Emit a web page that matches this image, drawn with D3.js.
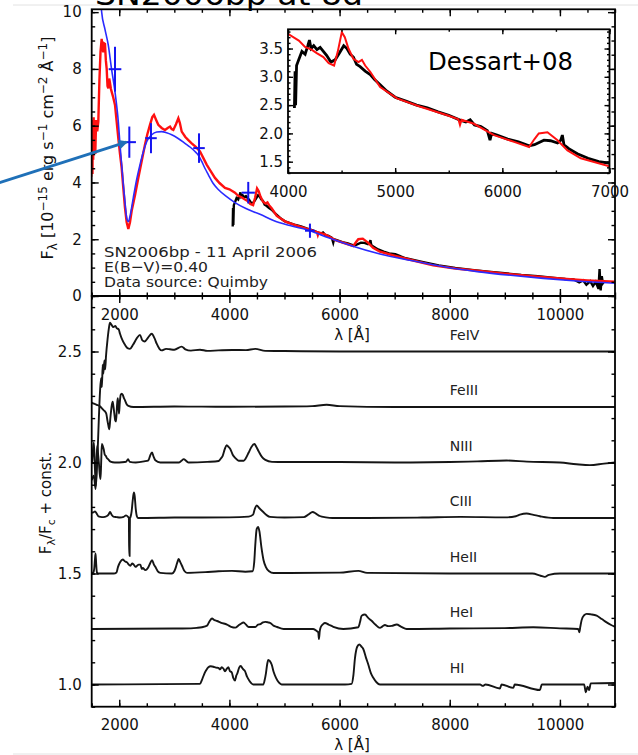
<!DOCTYPE html>
<html>
<head>
<meta charset="utf-8">
<script src="https://cdnjs.cloudflare.com/ajax/libs/d3/7.8.5/d3.min.js"></script>
<style>
body { margin: 0; background: #fff; }
text { font-family: "DejaVu Sans", sans-serif; }
</style>
</head>
<body>
<script>
// ---- top panel: observed spectrum, model, photometry ----
// model (red), [lambda A, F]
const modelSpec = [[1482,3.35],[1487,5.6],[1492,4.2],[1497,6.0],[1502,4.6],[1508,5.8],[1514,4.3],[1520,6.2],[1527,4.8],[1535,6.3],[1545,5.2],[1555,6.1],[1565,5.0],[1580,6.2],[1600,5.8],[1620,6.14],[1640,7.6],[1660,8.6],[1681,9.06],[1695,8.7],[1711,8.59],[1726,8.9],[1741,8.88],[1757,8.3],[1772,8.0],[1787,7.4],[1802,7.31],[1818,7.66],[1833,7.5],[1848,7.3],[1863,7.19],[1890,7.0],[1923,6.73],[1950,6.2],[1983,5.56],[2014,5.0],[2044,4.51],[2074,3.8],[2104,3.11],[2135,2.6],[2165,2.36],[2195,2.6],[2226,3.0],[2286,3.55],[2346,4.16],[2407,4.75],[2467,5.33],[2510,5.7],[2558,6.03],[2600,6.3],[2631,6.38],[2670,6.2],[2709,6.03],[2770,5.92],[2830,5.85],[2880,5.92],[2922,5.97],[2952,5.88],[2982,5.85],[3030,6.05],[3073,6.26],[3100,6.1],[3134,5.79],[3200,5.6],[3250,5.5],[3315,5.38],[3390,5.25],[3466,5.09],[3530,4.85],[3587,4.63],[3660,4.4],[3738,4.16],[3820,3.98],[3920,3.81],[4000,3.76],[4101,3.64],[4159,3.53],[4220,3.48],[4268,3.42],[4330,3.35],[4380,3.24],[4430,3.2],[4465,3.45],[4502,3.79],[4530,3.7],[4564,3.5],[4610,3.32],[4658,3.26],[4690,3.3],[4720,3.2],[4767,3.09],[4860,2.82],[5017,2.62],[5236,2.47],[5486,2.32],[5590,2.25],[5605,2.15],[5620,2.24],[5735,2.17],[5922,1.97],[6110,1.85],[6250,1.76],[6300,1.9],[6340,2.0],[6421,2.02],[6515,1.88],[6608,1.70],[6732,1.56],[7012,1.41],[7337,1.25],[7700,1.08],[8100,0.97],[8548,0.88],[9000,0.79],[9500,0.7],[10060,0.61],[10500,0.55],[11000,0.5]];

// observed (black)
const obsSpec = [[4060,2.45],[4066,3.1],[4071,2.5],[4080,3.2],[4100,3.3],[4130,3.45],[4160,3.4],[4185,3.55],[4200,3.65],[4215,3.5],[4240,3.55],[4270,3.48],[4300,3.52],[4330,3.45],[4360,3.38],[4400,3.26],[4440,3.3],[4480,3.42],[4520,3.55],[4550,3.5],[4580,3.4],[4610,3.35],[4640,3.22],[4673,3.18],[4720,3.1],[4767,3.04],[4810,2.95],[4860,2.86],[4920,2.75],[5000,2.64],[5100,2.57],[5200,2.5],[5300,2.45],[5400,2.38],[5500,2.32],[5600,2.24],[5660,2.2],[5700,2.24],[5740,2.15],[5800,2.12],[5860,2.05],[5885,1.88],[5900,2.0],[5950,1.97],[6050,1.9],[6150,1.85],[6250,1.78],[6300,1.8],[6388,1.88],[6450,1.87],[6515,1.83],[6545,1.88],[6560,1.97],[6575,1.8],[6620,1.73],[6700,1.64],[6800,1.56],[6900,1.5],[7012,1.47],[7200,1.33],[7500,1.2],[7800,1.08],[8100,0.99],[8400,0.92],[8700,0.86],[9000,0.8],[9300,0.74],[9600,0.7],[9900,0.64],[10100,0.6],[10250,0.58],[10350,0.48],[10420,0.55],[10480,0.40],[10550,0.52],[10600,0.35],[10650,0.5],[10700,0.25],[10720,0.95],[10740,0.2],[10760,0.7],[10780,0.45],[10800,0.5]];

// blackbody-like fit (blue)
const fitSpec = [[1640,11.2],[1681,10.0],[1740,9.4],[1802,8.83],[1860,8.0],[1923,7.19],[1983,6.14],[2014,5.33],[2045,4.6],[2074,3.93],[2105,3.3],[2135,2.76],[2165,2.62],[2200,2.85],[2255,3.46],[2310,4.05],[2377,4.63],[2440,5.1],[2498,5.44],[2589,5.68],[2680,5.78],[2770,5.79],[2860,5.75],[2952,5.68],[3070,5.55],[3193,5.38],[3290,5.24],[3375,5.09],[3440,4.95],[3497,4.74],[3555,4.5],[3616,4.28],[3700,3.98],[3798,3.75],[3950,3.5],[4101,3.29],[4300,3.08],[4555,2.88],[4800,2.66],[5099,2.48],[5462,2.30],[5800,2.05],[6200,1.78],[6733,1.48],[7300,1.25],[7943,1.01],[8500,0.86],[9152,0.72],[9700,0.62],[10300,0.53],[11000,0.45]];

// photometry crosses
const photLam  = [1923, 2183, 2576, 3448, 4342, 5462];
const photFlux = [7.99, 5.42, 5.56, 5.21, 3.64, 2.30];
const photErr  = [0.79, 0.55, 0.53, 0.52, 0.38, 0.25];
const photDLam = [115, 120, 105, 105, 120, 90];

const infoLines = ["SN2006bp - 11 April 2006", "E(B\u2212V)=0.40", "Data source: Quimby"];

// ---- bottom panel: normalised spectra per ion, [lambda, offset from baseline] ----
const feIV = [[1500,-0.58],[1540,-0.56],[1570,-0.62],[1600,-0.5],[1630,-0.3],[1651,-0.18],[1670,-0.12],[1685,-0.16],[1700,-0.06],[1711,-0.1],[1730,-0.04],[1745,-0.08],[1760,-0.02],[1790,0.06],[1815,0.11],[1832,0.13],[1860,0.12],[1893,0.11],[1930,0.115],[1954,0.105],[1990,0.1],[2014,0.08],[2060,0.05],[2104,0.03],[2150,0.015],[2195,0.012],[2250,0.03],[2320,0.06],[2377,0.075],[2420,0.05],[2460,0.045],[2530,0.065],[2590,0.08],[2640,0.06],[2680,0.035],[2730,0.012],[2771,0.005],[2850,0.012],[2920,0.01],[3000,0.008],[3134,0.022],[3200,0.01],[3300,0.004],[3466,0.008],[3600,0.003],[3800,0.005],[4050,0.007],[4300,0.006],[4470,0.012],[4650,0.003],[5000,0.002],[6000,0.0],[11000,0.0]];
const feIII = [[1500,0.02],[1540,0.015],[1591,0.01],[1640,0.005],[1682,-0.005],[1720,-0.015],[1742,-0.02],[1765,-0.03],[1785,-0.06],[1800,-0.08],[1820,-0.1],[1835,-0.06],[1851,-0.02],[1866,0.01],[1881,0.024],[1896,0.0],[1911,-0.03],[1927,-0.06],[1942,-0.065],[1958,0.0],[1972,0.04],[1984,0.01],[1996,-0.03],[2010,0.02],[2026,0.055],[2045,0.06],[2063,0.055],[2085,0.04],[2105,0.03],[2135,0.012],[2166,0.005],[2257,0.0],[3000,0.002],[4000,0.001],[5000,0.002],[5500,0.004],[5765,0.01],[6000,0.004],[7000,0.0],[11000,0.0]];
const nIII = [[1500,0.0],[1510,0.01],[1525,0.06],[1540,0.09],[1557,-0.02],[1576,-0.105],[1590,0.02],[1600,0.075],[1615,0.04],[1630,0.0],[1645,-0.05],[1660,-0.075],[1672,0.0],[1684,0.083],[1700,0.075],[1718,0.06],[1737,0.035],[1755,0.03],[1775,0.02],[1797,0.015],[1840,0.004],[1918,0.0],[2000,0.0],[2100,0.002],[2130,0.005],[2160,0.015],[2190,0.003],[2300,0.0],[2450,0.005],[2530,0.01],[2560,0.03],[2595,0.045],[2625,0.025],[2655,0.01],[2745,0.0],[3079,0.0],[3130,0.008],[3170,0.015],[3220,0.006],[3260,0.0],[3600,0.003],[3805,0.007],[3850,0.02],[3878,0.03],[3915,0.06],[3950,0.078],[3985,0.07],[4018,0.06],[4060,0.035],[4108,0.02],[4168,0.008],[4259,0.008],[4300,0.02],[4350,0.045],[4400,0.07],[4453,0.083],[4490,0.07],[4531,0.05],[4590,0.025],[4652,0.012],[4773,0.003],[5000,0.002],[6000,0.002],[7000,0.0],[8000,0.002],[8500,0.005],[9032,0.009],[9400,0.004],[10000,0.0],[10300,-0.008],[10544,-0.012],[10800,-0.005],[11000,0.0]];
const cIII = [[1500,0.024],[1530,0.025],[1560,0.03],[1590,0.02],[1620,0.008],[1660,0.005],[1710,0.004],[1770,0.008],[1805,0.015],[1833,0.027],[1860,0.015],[1893,0.006],[1950,0.004],[2014,0.002],[2080,0.005],[2123,0.012],[2160,0.005],[2175,0.0],[2180,-0.17],[2188,-0.17],[2194,0.0],[2205,0.005],[2225,0.03],[2245,0.08],[2265,0.115],[2280,0.1],[2300,0.04],[2320,0.008],[2340,0.0],[3000,0.002],[4000,0.003],[4350,0.006],[4430,0.015],[4460,0.04],[4494,0.057],[4540,0.045],[4615,0.027],[4680,0.012],[4736,0.005],[5000,0.002],[5350,0.004],[5431,0.015],[5511,0.027],[5570,0.02],[5640,0.009],[5750,0.003],[5870,0.0],[6500,0.0],[7500,0.002],[8200,0.005],[9000,0.003],[9200,0.008],[9274,0.015],[9395,0.02],[9520,0.014],[9637,0.008],[9879,0.0],[11000,0.0]];
const heII = [[1500,0.0],[1530,0.005],[1545,0.02],[1558,0.06],[1570,0.09],[1582,0.04],[1595,0.005],[1610,0.0],[1900,0.0],[1950,0.005],[1978,0.03],[2020,0.053],[2063,0.063],[2100,0.055],[2142,0.05],[2172,0.04],[2202,0.035],[2233,0.045],[2263,0.04],[2294,0.03],[2324,0.035],[2354,0.04],[2384,0.04],[2410,0.02],[2427,0.025],[2475,0.015],[2520,0.025],[2560,0.045],[2595,0.06],[2630,0.04],[2655,0.03],[2700,0.01],[2745,0.003],[2957,0.0],[3000,0.01],[3030,0.03],[3060,0.055],[3079,0.065],[3110,0.05],[3139,0.035],[3180,0.012],[3230,0.003],[3563,0.006],[3800,0.01],[4047,0.012],[4289,0.008],[4420,0.01],[4450,0.05],[4470,0.13],[4495,0.2],[4520,0.21],[4545,0.19],[4580,0.12],[4620,0.06],[4660,0.03],[4720,0.01],[4800,0.002],[6000,0.004],[6340,0.012],[6500,0.003],[8000,0.0],[9500,0.0],[9650,-0.01],[9727,-0.015],[9800,-0.006],[10000,0.0],[11000,0.0]];
const heI = [[1500,0.0],[3000,0.002],[3300,0.003],[3412,0.005],[3500,0.008],[3594,0.015],[3640,0.035],[3684,0.047],[3730,0.04],[3775,0.036],[3850,0.028],[3956,0.02],[4030,0.01],[4108,0.006],[4160,0.015],[4199,0.022],[4259,0.029],[4300,0.02],[4350,0.009],[4470,0.009],[4520,0.02],[4561,0.022],[4610,0.03],[4652,0.032],[4700,0.03],[4743,0.027],[4800,0.015],[4864,0.009],[4985,0.0],[5522,0.0],[5590,-0.01],[5613,-0.015],[5625,-0.045],[5640,-0.01],[5657,0.008],[5700,0.022],[5735,0.027],[5800,0.02],[5886,0.01],[6068,0.0],[6340,0.008],[6370,0.03],[6400,0.06],[6461,0.065],[6520,0.05],[6582,0.037],[6650,0.02],[6733,0.005],[6780,0.012],[6824,0.018],[6880,0.013],[6945,0.014],[7036,0.02],[7120,0.01],[7217,0.0],[8000,0.002],[9000,0.004],[9516,0.008],[10000,0.003],[10333,0.0],[10352,-0.015],[10370,0.01],[10394,0.04],[10440,0.062],[10485,0.068],[10560,0.066],[10667,0.06],[10760,0.045],[10848,0.03],[10930,0.018],[11000,0.01]];
const hI = [[1500,0.0],[3466,0.003],[3500,0.02],[3539,0.045],[3580,0.065],[3618,0.078],[3660,0.082],[3709,0.08],[3755,0.076],[3800,0.075],[3830,0.068],[3860,0.078],[3890,0.072],[3920,0.06],[3950,0.07],[3981,0.078],[4010,0.06],[4041,0.055],[4070,0.03],[4102,0.018],[4125,0.04],[4144,0.05],[4175,0.075],[4205,0.083],[4245,0.07],[4283,0.06],[4320,0.035],[4362,0.017],[4400,0.005],[4434,0.0],[4615,0.0],[4640,0.02],[4663,0.05],[4685,0.09],[4705,0.111],[4735,0.105],[4767,0.09],[4805,0.055],[4846,0.03],[4900,0.008],[4948,0.0],[6100,0.0],[6219,0.003],[6250,0.04],[6280,0.12],[6320,0.17],[6357,0.18],[6400,0.17],[6430,0.16],[6480,0.12],[6521,0.09],[6570,0.05],[6612,0.03],[6670,0.01],[6733,0.0],[8000,0.0],[8550,0.0],[8600,-0.006],[8650,0.0],[8911,-0.018],[8940,0.0],[9153,-0.015],[9180,0.0],[9637,-0.025],[9670,0.0],[10440,0.0],[10470,-0.035],[10500,-0.01],[10530,-0.025],[10560,0.005],[11000,0.007]];

const ionNames = ["FeIV", "FeIII", "NIII", "CIII", "HeII", "HeI", "HI"];
const ionBase  = [2.5, 2.25, 2.0, 1.75, 1.5, 1.25, 1.0];
const ionData  = [feIV, feIII, nIII, cIII, heII, heI, hI];

const lamMajor = [2000, 4000, 6000, 8000, 10000];
const topYMajor = [0, 2, 4, 6, 8, 10];
const botYMajor = [1.0, 1.5, 2.0, 2.5];
const insetXMajor = [4000, 5000, 6000, 7000];
const insetYMajor = [1.5, 2.0, 2.5, 3.0, 3.5];

// ---- drawing ----
const W = 638, H = 755;
const svg = d3.select("body").append("svg").attr("width", W).attr("height", H);

const x = d3.scaleLinear().domain([1500, 11000]).range([91.7, 615]);
const yTop = d3.scaleLinear().domain([0, 10.1]).range([296, 9.3]);
const yBot = d3.scaleLinear().domain([0.9, 2.75]).range([706.7, 296]);
const xIn = d3.scaleLinear().domain([4000, 7000]).range([288, 609.5]);
const yIn = d3.scaleLinear().domain([1.3, 3.84]).range([173, 29.3]);

// slide leftovers: faint rules and the cut title
svg.append("line").attr("x1", 13).attr("x2", W).attr("y1", 5).attr("y2", 5).attr("stroke", "#e2e2e2");
svg.append("line").attr("x1", 13).attr("x2", W).attr("y1", 754).attr("y2", 754).attr("stroke", "#e2e2e2");
svg.append("text").attr("x", 95).attr("y", 5).attr("font-family", "Open Sans").attr("font-size", 30)
  .attr("textLength", 268).attr("lengthAdjust", "spacingAndGlyphs").text("SN2006bp at 8d");

function clip(id, xs, ys) {
  const [xa, xb] = xs.range(), [ya, yb] = ys.range();
  svg.append("clipPath").attr("id", id).append("rect")
    .attr("x", xa).attr("y", yb).attr("width", xb - xa).attr("height", ya - yb);
  return `url(#${id})`;
}

function frame(xs, ys, o) {
  const g = svg.append("g");
  const [xa, xb] = xs.range(), [ya, yb] = ys.range();
  const sides = [
    [d3.axisBottom, xs, `translate(0,${ya})`, o.xMaj, o.xMin, o.xFmt, o.xPad],
    [d3.axisTop, xs, `translate(0,${yb})`, o.xMaj, o.xMin, null, 0],
    [d3.axisLeft, ys, `translate(${xa},0)`, o.yMaj, o.yMin, o.yFmt, o.yPad],
    [d3.axisRight, ys, `translate(${xb},0)`, o.yMaj, o.yMin, null, 0]
  ];
  sides.forEach(([fn, sc, tr, maj, min, fmt, pad]) => {
    [[min, o.minLen, null], [maj, o.majLen, fmt]].forEach(([vals, len, f]) => {
      const a = g.append("g").attr("transform", tr)
        .call(fn(sc).tickValues(vals).tickSize(-len).tickPadding(pad).tickFormat(f || (() => "")));
      a.select(".domain").remove();
      a.attr("font-family", "DejaVu Sans").attr("font-size", 15);
      a.selectAll("line").attr("stroke-width", 1.4);
      a.selectAll("text").attr("fill", "#111");
    });
  });
  g.append("rect").attr("x", xa).attr("y", yb).attr("width", xb - xa).attr("height", ya - yb)
    .attr("fill", "none").attr("stroke", "#000").attr("stroke-width", 1.8);
}

const lamMinor = d3.range(1500, 11001, 500);

// bottom panel
const clipB = clip("cb", x, yBot);
const lineB = d3.line().x(d => x(d[0])).y(d => yBot(d[1])).curve(d3.curveMonotoneX);
ionData.forEach((data, i) => {
  svg.append("path").datum(data.map(d => [d[0], ionBase[i] + d[1]]))
    .attr("d", lineB).attr("fill", "none").attr("stroke", "#151515")
    .attr("stroke-width", 1.9).attr("clip-path", clipB);
  svg.append("text").attr("x", x(8000)).attr("y", yBot(ionBase[i] + 0.075))
    .attr("dominant-baseline", "central").attr("font-size", 14).attr("fill", "#222")
    .text(ionNames[i]);
});
frame(x, yBot, {
  xMaj: lamMajor, xMin: lamMinor, xFmt: d3.format("d"), xPad: 13,
  yMaj: botYMajor, yMin: d3.range(0.9, 2.76, 0.1), yFmt: d3.format(".1f"), yPad: 10,
  majLen: 7, minLen: 3.5
});

// top panel
const clipT = clip("ct", x, yTop);
const lineT = d3.line().x(d => x(d[0])).y(d => yTop(d[1]));
svg.append("path").datum(obsSpec).attr("d", lineT).attr("fill", "none")
  .attr("stroke", "#000").attr("stroke-width", 2.4).attr("clip-path", clipT);
svg.append("path").datum(modelSpec).attr("d", lineT).attr("fill", "none")
  .attr("stroke", "#ff1010").attr("stroke-width", 2.4).attr("clip-path", clipT);
svg.append("path").datum(fitSpec).attr("d", lineT.curve(d3.curveMonotoneX)).attr("fill", "none")
  .attr("stroke", "#2b2bff").attr("stroke-width", 1.6).attr("clip-path", clipT);
photLam.forEach((l, i) => {
  const g = svg.append("g").attr("stroke", "#1414f0").attr("stroke-width", 2);
  g.append("line").attr("x1", x(l)).attr("x2", x(l))
    .attr("y1", yTop(photFlux[i] - photErr[i])).attr("y2", yTop(photFlux[i] + photErr[i]));
  g.append("line").attr("x1", x(l - photDLam[i])).attr("x2", x(l + photDLam[i]))
    .attr("y1", yTop(photFlux[i])).attr("y2", yTop(photFlux[i]));
});
infoLines.forEach((t, i) => {
  svg.append("text").attr("x", 104).attr("y", 256.5 + i * 15).attr("font-size", 14.5)
    .attr("textLength", [213, 104, 164][i]).attr("lengthAdjust", "spacingAndGlyphs")
    .attr("fill", "#222").text(t);
});
frame(x, yTop, {
  xMaj: lamMajor, xMin: lamMinor, xFmt: d3.format("d"), xPad: 13,
  yMaj: topYMajor, yMin: d3.range(0, 10.01, 0.5), yFmt: d3.format("d"), yPad: 10,
  majLen: 7, minLen: 3.5
});

// inset
svg.append("rect").attr("x", 288).attr("y", 29.3).attr("width", 321.5).attr("height", 143.7).attr("fill", "#fff");
const clipI = clip("ci", xIn, yIn);
const lineI = d3.line().x(d => xIn(d[0])).y(d => yIn(d[1]));
svg.append("path").datum(obsSpec).attr("d", lineI).attr("fill", "none")
  .attr("stroke", "#000").attr("stroke-width", 2.8).attr("clip-path", clipI);
svg.append("path").datum(modelSpec).attr("d", lineI).attr("fill", "none")
  .attr("stroke", "#ff1010").attr("stroke-width", 2).attr("clip-path", clipI);
frame(xIn, yIn, {
  xMaj: insetXMajor, xMin: d3.range(4000, 7001, 500), xFmt: d3.format("d"), xPad: 13,
  yMaj: insetYMajor, yMin: d3.range(1.3, 3.85, 0.1), yFmt: d3.format(".1f"), yPad: 5,
  majLen: 5, minLen: 2.5
});
svg.append("text").attr("x", 428).attr("y", 70).attr("font-family", "Open Sans").attr("font-size", 25)
  .attr("textLength", 145).attr("lengthAdjust", "spacingAndGlyphs").text("Dessart+08");

// axis titles
function title(tr, parts, size) {
  const t = svg.append("text").attr("transform", tr).attr("text-anchor", "middle")
    .attr("font-size", size).attr("fill", "#111");
  parts.forEach(([s, dy, fs]) => t.append("tspan").attr("dy", dy).attr("font-size", fs || size).text(s));
}
title("translate(352,340)", [["\u03bb [\u00c5]", 0]], 15);
title("translate(352,750)", [["\u03bb [\u00c5]", 0]], 15);
title("translate(53,148) rotate(-90)", [["F", 0], ["\u03bb", 4, 12], [" [10", -4], ["\u221215", -6, 12],
  [" erg s", 6], ["\u22121", -6, 12], [" cm", 6], ["\u22122", -6, 12], [" \u00c5", 6], ["\u22121", -6, 12], ["]", 6]], 16);
title("translate(51,503) rotate(-90)", [["F", 0], ["\u03bb", 4, 11], ["/F", -4], ["c", 4, 11], [" + const.", -4]], 15);

// arrow pointing at the second photometric point
const tip = [x(photLam[1]) - 3, yTop(photFlux[1])];
svg.append("defs").append("marker").attr("id", "ah").attr("viewBox", "0 0 10 10")
  .attr("refX", 8).attr("refY", 5).attr("markerWidth", 3.2).attr("markerHeight", 3.2)
  .attr("orient", "auto").append("path").attr("d", "M0,0L10,5L0,10z").attr("fill", "#1f70b8");
svg.append("line").attr("x1", -2).attr("y1", tip[1] + 41).attr("x2", tip[0]).attr("y2", tip[1])
  .attr("stroke", "#1f70b8").attr("stroke-width", 3).attr("marker-end", "url(#ah)");
</script>
</body>
</html>
